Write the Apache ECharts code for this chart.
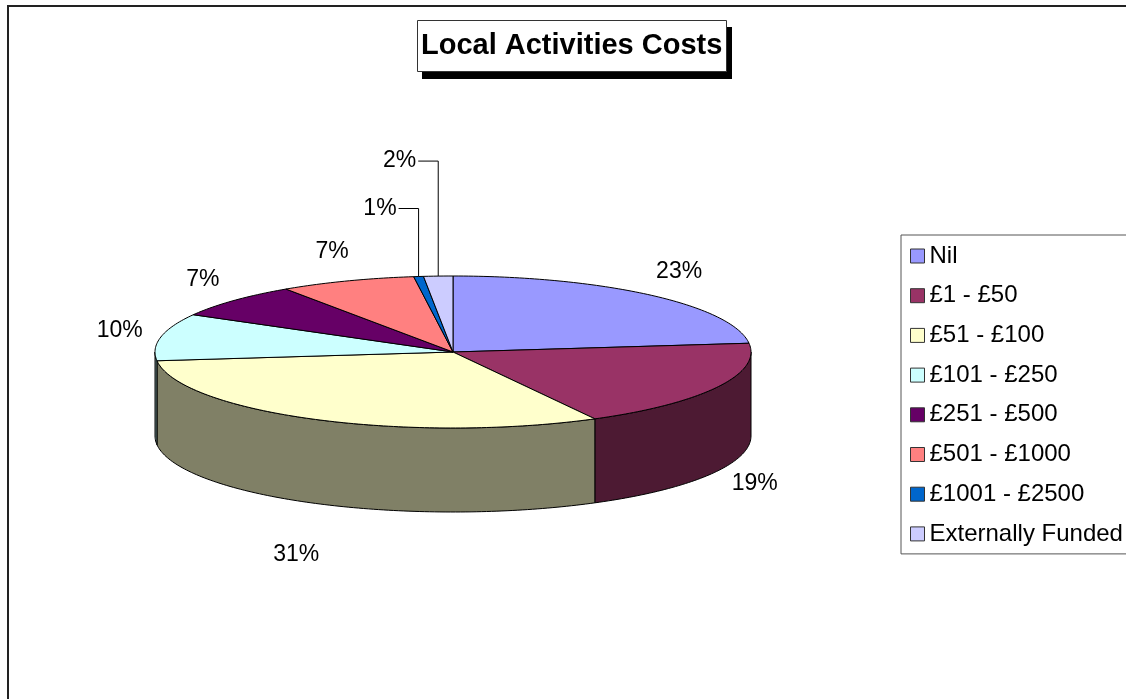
<!DOCTYPE html>
<html><head><meta charset="utf-8">
<script src="https://cdn.jsdelivr.net/npm/echarts@6/dist/echarts.min.js"></script>
<style>html,body{margin:0;padding:0;background:#fff}#c{width:1126px;height:699px}</style>
</head><body><div id="c"></div>
<script>
// ---- data ----
const categories = ['Nil', '£1 - £50', '£51 - £100', '£101 - £250', '£251 - £500', '£501 - £1000', '£1001 - £2500', 'Externally Funded'];
const counts = [44, 36, 59, 19, 14, 14, 1, 3];
const colors = ['#9999FF', '#993366', '#FFFFCC', '#CCFFFF', '#660066', '#FF8080', '#0066CC', '#CCCCFF'];
const titleText = 'Local Activities Costs';

// ---- layout ----
const total = counts.reduce((a, b) => a + b, 0);
const starts = []; { let acc = 0; counts.forEach(v => { starts.push(acc); acc += v; }); }
const PIE = { cx: 453, cy: 352, rx: 298, ry: 76, depth: 84 };
const FONT = "'Liberation Sans', Arial, sans-serif";

function shade(hex, f) {
  const n = parseInt(hex.slice(1), 16);
  const r = Math.round(((n >> 16) & 255) * f), g = Math.round(((n >> 8) & 255) * f), b = Math.round((n & 255) * f);
  return 'rgb(' + r + ',' + g + ',' + b + ')';
}
function pt(th, dy) { return [PIE.cx + PIE.rx * Math.sin(th), PIE.cy - PIE.ry * Math.cos(th) + (dy || 0)]; }
function arc(a, b, dy) {
  const n = Math.max(2, Math.ceil((b - a) / (Math.PI / 180)));
  const out = [];
  for (let k = 0; k <= n; k++) out.push(pt(a + (b - a) * k / n, dy));
  return out;
}
function smallIndex(i) {
  let k = 0;
  for (let j = 0; j < i; j++) if (counts[j] / total < 0.03) k++;
  return k;
}

function makeRender(i) {
  return function (params, api) {
    const v = api.value(0);
    const a = starts[i] / total * 2 * Math.PI;
    const b = (starts[i] + v) / total * 2 * Math.PI;
    const col = colors[i];
    const children = [];
    // outer wall (front half only)
    const wa = Math.max(a, Math.PI / 2), wb = Math.min(b, 1.5 * Math.PI);
    if (wb > wa) {
      const pts = arc(wa, wb, 0).concat(arc(wa, wb, PIE.depth).reverse());
      children.push({ type: 'polygon', z2: 1, shape: { points: pts },
        style: { fill: shade(col, 0.5), stroke: '#000', lineWidth: 1, lineJoin: 'round' } });
    }
    // top face
    children.push({ type: 'polygon', z2: 5, shape: { points: [[PIE.cx, PIE.cy]].concat(arc(a, b, 0)) },
      style: { fill: col, stroke: '#000', lineWidth: 1, lineJoin: 'round' } });
    // label
    const pct = Math.round(v / total * 100) + '%';
    const m = (a + b) / 2;
    if (v / total < 0.03) {
      const p = pt(m, 0);
      const k = smallIndex(i);
      const ty = p[1] - 68 - 47 * k;
      children.push({ type: 'polyline', z2: 20, shape: { points: [[p[0] - 20, ty], [p[0], ty], p] },
        style: { stroke: '#000', lineWidth: 1, fill: null } });
      children.push({ type: 'text', z2: 21, style: { text: pct, x: p[0] - 22, y: ty, fill: '#000',
        fontSize: 23, fontFamily: FONT, align: 'right', verticalAlign: 'middle' } });
    } else {
      const c = Math.cos(m), s = Math.sin(m);
      const x = PIE.cx + 340 * s;
      const y = c >= 0 ? PIE.cy - 107 * c : PIE.cy + 168 * (-c) + 54;
      children.push({ type: 'text', z2: 21, style: { text: pct, x: x, y: y, fill: '#000',
        fontSize: 23, fontFamily: FONT, align: 'center', verticalAlign: 'middle' } });
    }
    return { type: 'group', children: children };
  };
}

const chart = echarts.init(document.getElementById('c'), null, { renderer: 'canvas' });
chart.setOption({
  animation: false,
  color: colors,
  title: {
    text: titleText, left: 417, top: 21, z: 10,
    padding: [11, 4, 11, 4],
    backgroundColor: '#fff', borderColor: '#333', borderWidth: 1,
    textStyle: { fontSize: 29, fontWeight: 'bold', fontFamily: FONT, color: '#000', lineHeight: 28 }
  },
  graphic: [
    { type: 'rect', z: 0, shape: { x: 8, y: 6, width: 1300, height: 900 }, style: { fill: 'none', stroke: '#222', lineWidth: 2 } },
    { type: 'rect', z: 1, shape: { x: 422, y: 27, width: 310, height: 52 }, style: { fill: '#000' } }
  ],
  legend: {
    orient: 'vertical', left: 901, top: 235,
    data: categories, selectedMode: false,
    icon: 'rect', itemWidth: 14, itemHeight: 14, itemGap: 15.7,
    padding: [9, 30, 8, 9],
    backgroundColor: '#fff', borderColor: '#555', borderWidth: 1,
    itemStyle: { borderColor: '#333', borderWidth: 1 },
    textStyle: { fontSize: 24, fontFamily: FONT, color: '#000', lineHeight: 24 }
  },
  series: categories.map((name, i) => ({
    type: 'custom', name: name, coordinateSystem: 'none', silent: true,
    itemStyle: { color: colors[i] },
    data: [counts[i]],
    renderItem: makeRender(i)
  }))
});
</script>
</body></html>
